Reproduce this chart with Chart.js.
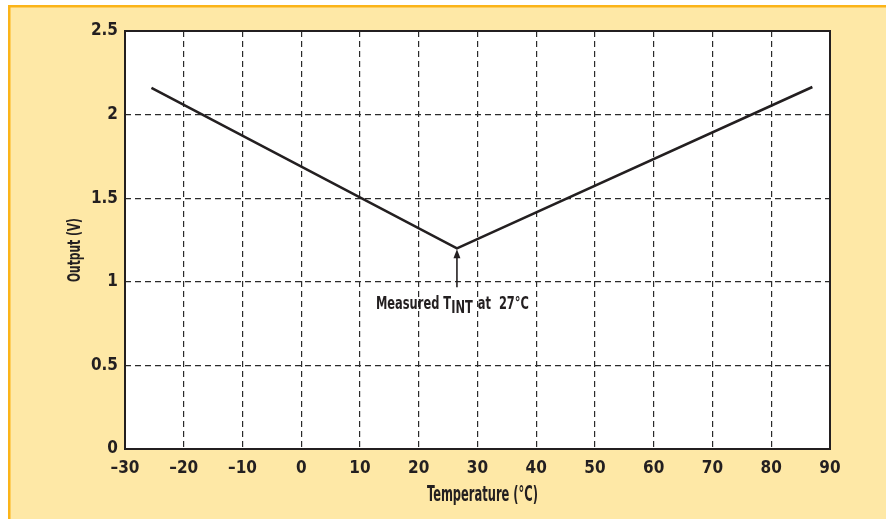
<!DOCTYPE html>
<html>
<head>
<meta charset="utf-8">
<script src="https://cdn.jsdelivr.net/npm/chart.js@4"></script>
<style>
  html, body { margin: 0; padding: 0; background: #fff; }
  #wrap { width: 886px; height: 519px; }
</style>
</head>
<body>
<div id="wrap"><canvas id="tempChart" width="886" height="519"></canvas></div>
<script>
// データ
const temps = [-25.5, 26.5, 87];
const outputs = [2.16, 1.2, 2.165];
const xTickLabels = ['–30', '–20', '–10', '0', '10', '20', '30', '40', '50', '60', '70', '80', '90'];
const yTickLabels = ['0', '0.5', '1', '1.5', '2', '2.5'];
const xTitle = 'Temperature (°C)';
const yTitle = 'Output (V)';

const FONT = "'Liberation Sans Narrow', 'DejaVu Sans Condensed', 'Arial Narrow', sans-serif";
const INK = '#231f20';

// 幅を合わせて細字体っぽく描く
function narrowText(c, text, x, y, font, targetW, align) {
    c.font = font;
    const w = c.measureText(text).width;
    const f = Math.min(1, targetW / w);
    c.save();
    c.translate(x, y);
    c.scale(f, 1);
    c.textAlign = align || 'left';
    c.fillText(text, 0, 0);
    c.restore();
    return w * f;
}

// 背景と枠
const framePlugin = {
    id: 'frame',
    beforeDraw(chart) {
        const c = chart.ctx;
        const a = chart.chartArea;
        c.save();
        c.fillStyle = '#ffffff';
        c.fillRect(0, 0, chart.width, chart.height);
        c.fillStyle = '#fee8a6';
        c.fillRect(10, 7, chart.width - 10, chart.height - 7);
        c.fillStyle = '#fbb419';
        c.fillRect(8, 5, chart.width - 8, 2.5);
        c.fillRect(8, 5, 2.5, chart.height - 5);
        c.fillStyle = '#ffffff';
        c.fillRect(a.left, a.top, a.right - a.left, a.bottom - a.top);
        c.restore();
    },
    afterDraw(chart) {
        const c = chart.ctx;
        const a = chart.chartArea;
        const xs = chart.scales.x;
        const ys = chart.scales.y;
        c.save();
        c.strokeStyle = INK;
        c.lineWidth = 2;
        c.strokeRect(a.left, a.top, a.right - a.left, a.bottom - a.top);

        // 軸タイトル
        c.fillStyle = INK;
        c.textBaseline = 'alphabetic';
        narrowText(c, xTitle, (a.left + a.right) / 2 + 5, 501, 'bold 21px ' + FONT, 111, 'center');
        c.save();
        c.translate(80, (a.top + a.bottom) / 2 + 10);
        c.rotate(-Math.PI / 2);
        narrowText(c, yTitle, 0, 0, 'bold 18px ' + FONT, 64, 'center');
        c.restore();

        // 矢印
        const px = xs.getPixelForValue(temps[1]);
        const py = ys.getPixelForValue(outputs[1]);
        c.lineWidth = 1.6;
        c.beginPath();
        c.moveTo(px, py + 6);
        c.lineTo(px, py + 39);
        c.stroke();
        c.beginPath();
        c.moveTo(px, py + 1);
        c.lineTo(px - 3.5, py + 10);
        c.lineTo(px + 3.5, py + 10);
        c.closePath();
        c.fill();

        // 注記テキスト
        const font = 'bold 18px ' + FONT;
        const parts = ['Measured T', 'INT', ' at  27°C'];
        c.font = font;
        const full = c.measureText(parts.join('')).width;
        const f = 152 / full;
        let tx = px - 81;
        const ty = py + 61;
        const offs = [0, 4, 0];
        parts.forEach((p, i) => {
            const w = c.measureText(p).width * f;
            c.save();
            c.translate(tx, ty + offs[i]);
            c.scale(f, 1);
            c.fillText(p, 0, 0);
            c.restore();
            tx += w + (i === 1 ? 1 : 0);
        });
        c.restore();
    }
};

let ctx = document.getElementById('tempChart').getContext('2d');
let chart = new Chart(ctx, {
    type: 'line',
    data: {
        datasets: [{
            data: temps.map((t, i) => ({ x: t, y: outputs[i] })),
            borderColor: INK,
            borderWidth: 2.6,
            pointRadius: 0,
            tension: 0,
            fill: false
        }]
    },
    options: {
        responsive: false,
        animation: false,
        layout: {
            padding: { left: 63, top: 31, right: 56, bottom: 15 }
        },
        plugins: {
            legend: { display: false },
            tooltip: { enabled: false }
        },
        scales: {
            x: {
                type: 'linear',
                min: -30,
                max: 90,
                afterFit: s => { s.height = 55; },
                ticks: {
                    stepSize: 10,
                    padding: 9,
                    maxRotation: 0,
                    color: INK,
                    font: { family: FONT, size: 17, weight: 'bold' },
                    callback: (v) => xTickLabels[Math.round((v + 30) / 10)]
                },
                grid: { color: '#2a2a2a', lineWidth: 1.2, drawTicks: false },
                border: { display: false, dash: [6, 4] }
            },
            y: {
                min: 0,
                max: 2.5,
                afterFit: s => { s.width = 62; },
                ticks: {
                    stepSize: 0.5,
                    padding: 7,
                    color: INK,
                    font: { family: FONT, size: 17, weight: 'bold' },
                    callback: (v) => yTickLabels[Math.round(v * 2)]
                },
                grid: { color: '#2a2a2a', lineWidth: 1.2, drawTicks: false },
                border: { display: false, dash: [6, 4] }
            }
        }
    },
    plugins: [framePlugin]
});
</script>
</body>
</html>
